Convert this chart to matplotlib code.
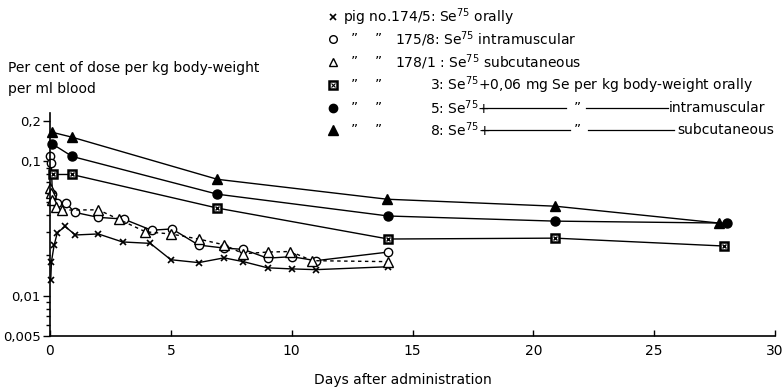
import numpy as np
import matplotlib
matplotlib.use("Agg")
import matplotlib.pyplot as plt
from matplotlib.lines import Line2D
from matplotlib.ticker import FixedLocator, NullFormatter

# pig 174/5: Se75 orally (x)
oral_days = [0.03, 0.06, 0.17, 0.3, 0.62, 1.05, 2.0, 3.0, 4.15, 5.0, 6.15, 7.2, 8.0, 9.0, 10.0, 11.0, 14.0]
oral_vals = [0.0130, 0.0179, 0.0237, 0.0293, 0.0328, 0.0283, 0.0288, 0.0251, 0.0245, 0.0185, 0.0176,
             0.0191, 0.0179, 0.0161, 0.0158, 0.0156, 0.0164]

# pig 175/8: Se75 intramuscular (open circle)
im_days = [0.0, 0.05, 0.1, 0.3, 0.65, 1.03, 2.0, 3.05, 4.2, 5.05, 6.15, 7.2, 8.0, 9.0, 10.0, 11.0, 14.0]
im_vals = [0.109, 0.098, 0.057, 0.049, 0.049, 0.0417, 0.0383, 0.0372, 0.0307, 0.0314, 0.0238,
           0.0226, 0.0221, 0.0190, 0.0195, 0.0182, 0.0211]

# pig 178/1: Se75 subcutaneous (open triangle, dashed)
sc_days = [0.0, 0.04, 0.1, 0.25, 0.5, 2.0, 2.85, 3.95, 5.0, 6.15, 7.2, 8.0, 9.0, 9.95, 10.85, 14.0]
sc_vals = [0.0638, 0.058, 0.0514, 0.0454, 0.0434, 0.0436, 0.0370, 0.0299, 0.0288, 0.0264, 0.0239,
           0.0205, 0.0211, 0.0213, 0.0182, 0.0179]

# pig 3: Se75 + carrier orally (square)
oral_se_days = [0.14, 0.9, 6.93, 14.0, 20.9, 27.9]
oral_se_vals = [0.080, 0.080, 0.0449, 0.0264, 0.0268, 0.0234]

# pig 5: Se75 + carrier intramuscular (filled circle)
im_se_days = [0.1, 0.92, 6.93, 14.0, 20.9, 28.0]
im_se_vals = [0.135, 0.109, 0.057, 0.0392, 0.0359, 0.0347]

# pig 8: Se75 + carrier subcutaneous (filled triangle)
sc_se_days = [0.1, 0.9, 6.93, 13.95, 20.9, 27.7]
sc_se_vals = [0.165, 0.152, 0.0736, 0.0523, 0.0464, 0.0347]

x_ticks = [0, 5, 10, 15, 20, 25, 30]
y_ticks = [0.005, 0.01, 0.1, 0.2]
y_tick_labels = ["0,005", "0,01", "0,1", "0,2"]

W, H = 784, 390
fig = plt.figure(figsize=(W / 100, H / 100), dpi=100)
ax = fig.add_axes([50 / W, 54 / H, 725 / W, 223 / H])

k = "black"
ax.plot(oral_days, oral_vals, color=k, lw=1.0, marker="x", ms=5, mew=1.2, clip_on=False)
ax.plot(im_days, im_vals, color=k, lw=1.0, marker="o", ms=6, mfc="white", mew=1.0, clip_on=False)
ax.plot(sc_days, sc_vals, color=k, lw=1.0, ls=(0, (2.5, 2.5)), marker="^", ms=6.5, mfc="white",
        mew=1.0, clip_on=False)
ax.plot(oral_se_days, oral_se_vals, color=k, lw=1.0, marker="s", ms=6, mfc="white", mew=1.8, clip_on=False)
ax.plot(oral_se_days, oral_se_vals, ls="none", marker="x", ms=3, color=k, mew=1.0, clip_on=False)
ax.plot(im_se_days, im_se_vals, color=k, lw=1.0, marker="o", ms=6.5, clip_on=False)
ax.plot(sc_se_days, sc_se_vals, color=k, lw=1.0, marker="^", ms=7, clip_on=False)

ax.set_yscale("log")
ax.set_xlim(0, 30)
ax.set_ylim(0.00499, 0.23)
ax.set_xticks(x_ticks)
ax.set_xticklabels([str(t) for t in x_ticks], fontsize=10)
ax.yaxis.set_major_locator(FixedLocator(y_ticks))
ax.set_yticklabels(y_tick_labels, fontsize=9.5)
minor = [m * 10.0 ** e for e in (-3, -2, -1) for m in range(2, 10)]
ax.yaxis.set_minor_locator(FixedLocator([v for v in minor if v not in y_ticks]))
ax.yaxis.set_minor_formatter(NullFormatter())
ax.tick_params(axis="y", which="major", direction="out", length=5, width=1, pad=1.5)
ax.tick_params(axis="y", which="minor", direction="out", length=3, width=1)
ax.tick_params(axis="x", direction="in", length=4, width=1, pad=6)
for s in ("top", "right"):
    ax.spines[s].set_visible(False)
for s in ("left", "bottom"):
    ax.spines[s].set_linewidth(1.2)


def fx(px):
    return px / W


def fy(py):
    return 1 - py / H


fs = 10
fig.text(fx(8), fy(68), "Per cent of dose per kg body-weight", fontsize=fs, va="center")
fig.text(fx(8), fy(89), "per ml blood", fontsize=fs, va="center")
fig.text(fx(403), fy(380), "Days after administration", fontsize=fs, ha="center", va="center")

# legend block
rows = [17, 39, 62, 85, 108, 130]
marks = [dict(marker="x", ms=5, mew=1.2, color=k),
         dict(marker="o", ms=5.5, mfc="white", mew=1.0, color=k),
         dict(marker="^", ms=6, mfc="white", mew=1.0, color=k),
         dict(marker="s", ms=5.5, mfc="white", mew=1.8, color=k),
         dict(marker="o", ms=6, color=k),
         dict(marker="^", ms=6.5, color=k)]
for r, m in zip(rows, marks):
    fig.add_artist(Line2D([fx(333)], [fy(r)], ls="none", transform=fig.transFigure, **m))
fig.add_artist(Line2D([fx(333)], [fy(rows[3])], ls="none", marker="x", ms=2.5, mew=0.8, color=k,
                      transform=fig.transFigure))

fig.text(fx(343), fy(rows[0]), "pig no.174/5: Se$^{75}$ orally", fontsize=fs, va="center")
for r in rows[1:]:
    fig.text(fx(354), fy(r), "\u201d", fontsize=fs, ha="center", va="center")
    fig.text(fx(378), fy(r), "\u201d", fontsize=fs, ha="center", va="center")
fig.text(fx(395), fy(rows[1]), "175/8: Se$^{75}$ intramuscular", fontsize=fs, va="center")
fig.text(fx(395), fy(rows[2]), "178/1 : Se$^{75}$ subcutaneous", fontsize=fs, va="center")
fig.text(fx(430), fy(rows[3]), "3: Se$^{75}$+0,06 mg Se per kg body-weight orally", fontsize=fs, va="center")
fig.text(fx(430), fy(rows[4]), "5: Se$^{75}$+", fontsize=fs, va="center")
fig.text(fx(430), fy(rows[5]), "8: Se$^{75}$+", fontsize=fs, va="center")
for r, (a0, a1, b0, b1) in zip(rows[4:], [(482, 566, 586, 668), (482, 570, 588, 674)]):
    fig.add_artist(Line2D([fx(a0), fx(a1)], [fy(r), fy(r)], color=k, lw=0.9, transform=fig.transFigure))
    fig.add_artist(Line2D([fx(b0), fx(b1)], [fy(r), fy(r)], color=k, lw=0.9, transform=fig.transFigure))
    fig.text(fx(577), fy(r), "\u201d", fontsize=fs, ha="center", va="center")
fig.text(fx(669), fy(rows[4]), "intramuscular", fontsize=fs, va="center")
fig.text(fx(677), fy(rows[5]), "subcutaneous", fontsize=fs, va="center")

fig.savefig("out.png", dpi=100)
